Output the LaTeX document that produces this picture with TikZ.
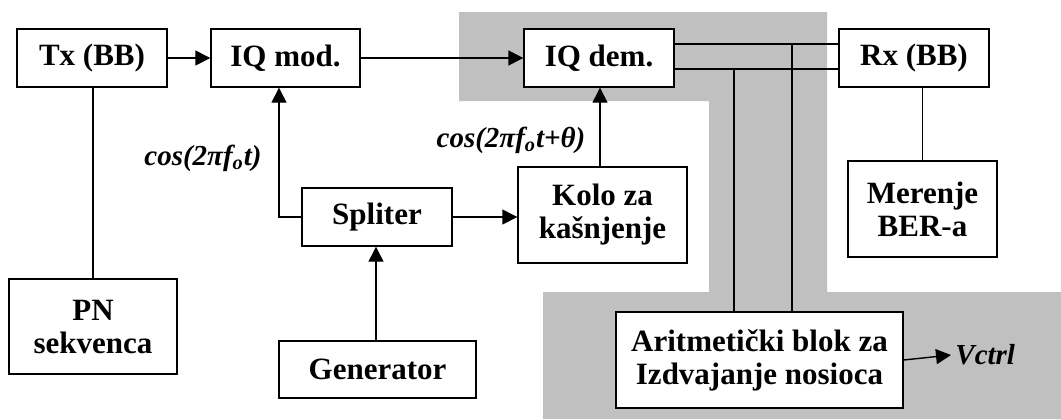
\documentclass[tikz,border=0pt]{standalone}
\usepackage{fontspec}
\setmainfont{Liberation Serif}
\usepackage{tikz}
\usepackage{xcolor}
\usetikzlibrary{arrows.meta}

\definecolor{SIVA}{RGB}{192, 192, 192}

\begin{document}
\begin{tikzpicture}[x=0.5pt, y=-0.5pt,
		blok/.style={draw, fill=white, line width=0.7pt, inner sep=0pt, align=center, font=\bfseries\fontsize{15.5}{16.5}\selectfont},
		oznaka/.style={inner sep=0pt, font=\bfseries\itshape\fontsize{14.5}{16}\selectfont},
		veza/.style={line width=0.7pt},
		strelica/.style={line width=0.7pt, -{Triangle[length=7.5pt, width=7.5pt]}}]
			\useasboundingbox (0,0) rectangle (1061,419);
			% siva podloga
			\fill[SIVA] (459,12) -- (827,12) -- (827,292) -- (1061,292) -- (1061,419) -- (543,419) -- (543,292) -- (709,292) -- (709,101) -- (459,101) -- cycle;
			% blokovi
			\node[blok, minimum width=75pt, minimum height=29pt] (tx) at (92, 58) {Tx (BB)};
			\node[blok, minimum width=74.5pt, minimum height=29pt] (iqmod) at (285.5, 58) {IQ mod.};
			\node[blok, minimum width=75pt, minimum height=29pt] (iqdem) at (599, 58) {IQ dem.};
			\node[blok, minimum width=75pt, minimum height=29pt] (rx) at (914, 58) {Rx (BB)};
			\node[blok, minimum width=84pt, minimum height=47.5pt] (pn) at (93, 326.5) {PN\\sekvenca};
			\node[blok, minimum width=75pt, minimum height=29pt] (spliter) at (377, 217) {Spliter};
			\node[blok, minimum width=84.5pt, minimum height=48pt] (kolo) at (602.5, 215) {Kolo za\\kašnjenje};
			\node[blok, minimum width=98.5pt, minimum height=28.5pt] (generator) at (377.5, 369.5) {Generator};
			\node[blok, minimum width=74.5pt, minimum height=48pt] (merenje) at (922.5, 209) {Merenje\\BER-a};
			\node[blok, minimum width=143.5pt, minimum height=48pt] (aritm) at (759.5, 360) {Aritmetički blok za\\Izdvajanje nosioca};
			% oznake
			\node[oznaka, anchor=base] (cosmod) at (203, 165) {cos(2πf\textsubscript{o}t)};
			\node[oznaka, anchor=base] (cosdem) at (511, 147) {cos(2πf\textsubscript{o}t+θ)};
			\node[oznaka, anchor=west] (vctrl) at (955, 355) {Vctrl};
			% tacke
			\coordinate (vkraj) at (951, 355);
			\coordinate (lom) at (279, 217);
			\coordinate (gen) at (376, 0);
			\coordinate (dem) at (600, 0);
			\coordinate (gore) at (0, 44);
			\coordinate (dole) at (0, 69);
			\coordinate (i1) at (734, 69);
			\coordinate (i2) at (792, 44);
			% veze
			\draw[strelica] (tx) -- (iqmod);
			\draw[strelica] (iqmod) -- (iqdem);
			\draw[veza] (pn.north |- tx.south) -- (pn.north);
			\draw[strelica] (spliter.west) -- (lom) -- (lom |- iqmod.south);
			\draw[strelica] (spliter.east) -- (kolo.west |- spliter.east);
			\draw[strelica] (gen |- generator.north) -- (gen |- spliter.south);
			\draw[strelica] (dem |- kolo.north) -- (dem |- iqdem.south);
			\draw[veza] (iqdem.east |- gore) -- (rx.west |- gore);
			\draw[veza] (iqdem.east |- dole) -- (rx.west |- dole);
			\draw[veza] (i1) -- (i1 |- aritm.north);
			\draw[veza] (i2) -- (i2 |- aritm.north);
			\draw[veza] (merenje.north |- rx.south) -- (merenje.north);
			\draw[strelica] (aritm.east) -- (vkraj);
		\end{tikzpicture}
\end{document}
